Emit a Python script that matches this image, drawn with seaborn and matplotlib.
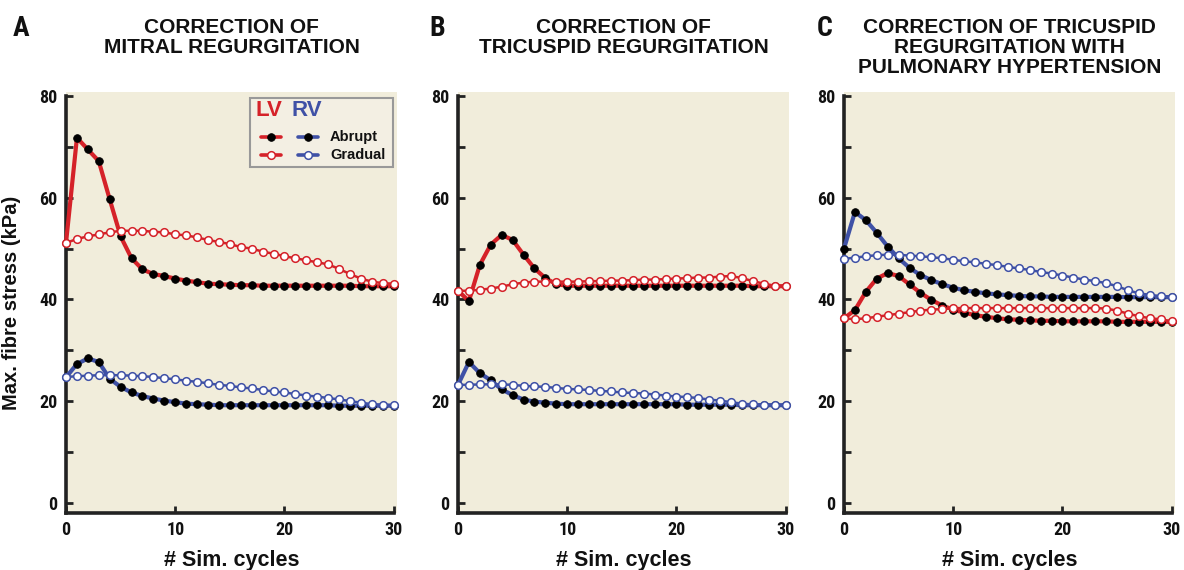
import numpy as np
import pandas as pd
import matplotlib
matplotlib.use("Agg")
import matplotlib.pyplot as plt
import seaborn as sns
from matplotlib.lines import Line2D
from matplotlib.patches import Rectangle
from matplotlib.ticker import MultipleLocator

# ---- data ----
cycles = list(range(31))

a_lv_abrupt = [51.1, 71.8, 69.5, 67.2, 59.7, 52.4, 48.1, 45.9, 45.0, 44.6, 44.1, 43.7, 43.4, 43.1, 43.0, 42.9,
               42.8, 42.8, 42.7, 42.7, 42.7, 42.7, 42.7, 42.7, 42.7, 42.7, 42.7, 42.6, 42.6, 42.6, 42.6]
a_lv_gradual = [51.1, 51.9, 52.4, 52.8, 53.2, 53.5, 53.5, 53.5, 53.3, 53.2, 52.8, 52.6, 52.2, 51.7, 51.3, 50.9,
                50.3, 50.0, 49.4, 49.0, 48.5, 48.1, 47.7, 47.3, 46.9, 46.0, 45.0, 44.1, 43.5, 43.2, 43.1]
a_rv_abrupt = [24.7, 27.3, 28.4, 27.7, 24.4, 22.8, 21.7, 21.0, 20.5, 20.1, 19.8, 19.5, 19.4, 19.3, 19.2, 19.2,
               19.2, 19.2, 19.2, 19.2, 19.2, 19.2, 19.2, 19.2, 19.2, 19.1, 19.1, 19.1, 19.1, 19.1, 19.1]
a_rv_gradual = [24.75, 24.9, 25.0, 25.1, 25.1, 25.1, 25.0, 24.9, 24.75, 24.5, 24.3, 24.0, 23.8, 23.5, 23.2, 23.0,
                22.7, 22.5, 22.2, 21.9, 21.7, 21.4, 21.1, 20.9, 20.6, 20.35, 20.0, 19.7, 19.4, 19.3, 19.2]

b_lv_abrupt = [41.7, 39.7, 46.8, 50.8, 52.7, 51.7, 48.8, 46.1, 44.2, 43.0, 42.7, 42.7, 42.7, 42.7, 42.7, 42.7,
               42.7, 42.7, 42.7, 42.7, 42.7, 42.7, 42.7, 42.7, 42.7, 42.7, 42.7, 42.6, 42.6, 42.6, 42.6]
b_lv_gradual = [41.7, 41.7, 41.9, 42.15, 42.5, 43.0, 43.3, 43.5, 43.5, 43.5, 43.5, 43.5, 43.6, 43.6, 43.7, 43.7,
                43.8, 43.9, 43.9, 44.0, 44.1, 44.2, 44.3, 44.3, 44.5, 44.6, 44.2, 43.6, 43.1, 42.7, 42.6]
b_rv_abrupt = [23.2, 27.7, 25.5, 24.1, 22.3, 21.2, 20.3, 19.9, 19.7, 19.5, 19.4, 19.4, 19.4, 19.4, 19.4, 19.4,
               19.4, 19.4, 19.4, 19.4, 19.4, 19.3, 19.3, 19.3, 19.3, 19.3, 19.2, 19.2, 19.2, 19.2, 19.2]
b_rv_gradual = [23.2, 23.2, 23.3, 23.3, 23.3, 23.2, 23.0, 22.9, 22.8, 22.6, 22.4, 22.3, 22.2, 22.0, 21.9, 21.7,
                21.6, 21.5, 21.3, 21.1, 20.9, 20.8, 20.6, 20.3, 20.1, 19.8, 19.5, 19.35, 19.3, 19.2, 19.15]

c_lv_abrupt = [36.3, 37.9, 41.5, 44.1, 45.2, 44.6, 42.95, 41.3, 39.9, 38.8, 38.0, 37.4, 36.9, 36.6, 36.3, 36.1,
               36.0, 35.9, 35.8, 35.8, 35.7, 35.7, 35.7, 35.7, 35.7, 35.6, 35.6, 35.6, 35.6, 35.6, 35.6]
c_lv_gradual = [36.3, 36.1, 36.3, 36.6, 36.9, 37.2, 37.5, 37.8, 38.0, 38.1, 38.3, 38.3, 38.3, 38.3, 38.3, 38.3,
                38.3, 38.3, 38.3, 38.3, 38.3, 38.3, 38.3, 38.3, 38.2, 37.8, 37.2, 36.7, 36.3, 36.1, 35.7]
c_rv_abrupt = [50.0, 57.2, 55.6, 53.1, 50.4, 48.1, 46.2, 44.8, 43.8, 43.0, 42.3, 41.8, 41.5, 41.2, 41.0, 40.85,
               40.7, 40.6, 40.6, 40.5, 40.5, 40.5, 40.5, 40.5, 40.5, 40.5, 40.45, 40.45, 40.45, 40.45, 40.45]
c_rv_gradual = [48.0, 48.2, 48.5, 48.7, 48.8, 48.8, 48.6, 48.5, 48.3, 48.1, 47.8, 47.5, 47.3, 47.0, 46.75, 46.4,
                46.1, 45.8, 45.4, 45.1, 44.7, 44.3, 43.9, 43.6, 43.2, 42.6, 41.8, 41.2, 40.9, 40.65, 40.45]

panel_letters = ["A", "B", "C"]
panel_titles = ["CORRECTION OF\nMITRAL REGURGITATION",
                "CORRECTION OF\nTRICUSPID REGURGITATION",
                "CORRECTION OF TRICUSPID\nREGURGITATION WITH\nPULMONARY HYPERTENSION"]
panel_series = [
    {("LV", "Abrupt"): a_lv_abrupt, ("LV", "Gradual"): a_lv_gradual,
     ("RV", "Abrupt"): a_rv_abrupt, ("RV", "Gradual"): a_rv_gradual},
    {("LV", "Abrupt"): b_lv_abrupt, ("LV", "Gradual"): b_lv_gradual,
     ("RV", "Abrupt"): b_rv_abrupt, ("RV", "Gradual"): b_rv_gradual},
    {("LV", "Abrupt"): c_lv_abrupt, ("LV", "Gradual"): c_lv_gradual,
     ("RV", "Abrupt"): c_rv_abrupt, ("RV", "Gradual"): c_rv_gradual},
]

# ---- style ----
RED = "#D52229"
BLUE = "#3F51A6"
BG = "#F1EDDB"
SPINE = "#222222"
INK = "#111111"

sns.set_theme(style="ticks")
NARROW = ["Roboto Condensed", "DejaVu Sans"]
plt.rcParams["font.family"] = ["Liberation Sans", "DejaVu Sans"]

colors = {"LV": RED, "RV": BLUE}


def series_style(vent, mode):
    if mode == "Abrupt":
        return dict(color=colors[vent], linewidth=3.0, marker="o", markersize=5.5,
                    markerfacecolor="black", markeredgecolor="black", markeredgewidth=0.6)
    return dict(color=colors[vent], linewidth=1.8, marker="o", markersize=5.5,
                markerfacecolor="white", markeredgecolor=colors[vent], markeredgewidth=1.1)


fig = plt.figure(figsize=(11.84, 5.70), dpi=100)
lefts = [66, 458, 844]
letter_x = [13, 429, 817]
ax_w, top_px, bot_px = 331, 92, 513
W, H = 1184, 570

for i, series in enumerate(panel_series):
    ax = fig.add_axes([lefts[i] / W, 1 - bot_px / H, ax_w / W, (bot_px - top_px) / H])
    ax.set_facecolor(BG)

    rows = []
    for (vent, mode), vals in series.items():
        for c, v in zip(cycles, vals):
            rows.append({"cycle": c, "stress": v, "vent": vent, "mode": mode})
    df = pd.DataFrame(rows)

    for mode in ["Abrupt", "Gradual"]:
        for vent in ["RV", "LV"]:
            sub = df[(df["vent"] == vent) & (df["mode"] == mode)]
            sns.lineplot(data=sub, x="cycle", y="stress", ax=ax, clip_on=False,
                         zorder=3 if mode == "Abrupt" else 4, **series_style(vent, mode))

    ax.set_xlim(0, 30.3)
    ax.set_ylim(-2, 80.8)
    ax.set_xticks([0, 10, 20, 30])
    ax.set_yticks([0, 20, 40, 60, 80])
    ax.yaxis.set_minor_locator(MultipleLocator(10))
    ax.tick_params(axis="both", which="both", direction="in", length=5, width=2,
                   color=SPINE, pad=6)
    for lab in ax.get_xticklabels() + ax.get_yticklabels():
        lab.set_family(NARROW)
        lab.set_fontsize(13)
        lab.set_fontweight("bold")
        lab.set_color(INK)
    for s in ["top", "right"]:
        ax.spines[s].set_visible(False)
    for s in ["left", "bottom"]:
        ax.spines[s].set_linewidth(2.6)
        ax.spines[s].set_color(SPINE)
    ax.spines["left"].set_bounds(-2, 80)
    ax.spines["bottom"].set_bounds(0, 30)

    ax.set_xlabel("# Sim. cycles", fontsize=15.5, fontweight="bold", color=INK)
    ax.xaxis.set_label_coords(0.5, -0.087)
    if i == 0:
        ax.set_ylabel("Max. fibre stress (kPa)", fontsize=14.5, fontweight="bold", color=INK)
        ax.yaxis.set_label_coords(-0.135, 0.5)
    else:
        ax.set_ylabel("")

    cx = (lefts[i] + ax_w / 2) / W
    fig.text(cx, 1 - 18 / H, panel_titles[i], ha="center", va="top",
             fontsize=15, fontweight="bold", linespacing=1.06, color=INK)
    fig.text(letter_x[i] / W, 1 - 29 / H, panel_letters[i], ha="left", va="center",
             family=NARROW, fontsize=20, fontweight="bold", color=INK)

    if i == 0:
        # legend box drawn in axes coordinates
        ax.add_patch(Rectangle((0.556, 0.822), 0.432, 0.164, transform=ax.transAxes,
                               facecolor="#F3EFE3", edgecolor="#999999", linewidth=1.5,
                               zorder=6, clip_on=False))
        ax.text(0.613, 0.955, "LV", transform=ax.transAxes, color=RED, fontsize=16,
                fontweight="bold", ha="center", va="center", zorder=7)
        ax.text(0.728, 0.955, "RV", transform=ax.transAxes, color=BLUE, fontsize=16,
                fontweight="bold", ha="center", va="center", zorder=7)
        for mode, yy in [("Abrupt", 0.893), ("Gradual", 0.850)]:
            for vent, (x0, x1) in [("LV", (0.589, 0.650)), ("RV", (0.701, 0.761))]:
                st = series_style(vent, mode)
                st["linewidth"] = 2.6
                ax.add_line(Line2D([x0, x1], [yy, yy], transform=ax.transAxes, zorder=7,
                                   **{k: v for k, v in st.items() if k != "marker"}))
                ax.add_line(Line2D([(x0 + x1) / 2], [yy], transform=ax.transAxes, zorder=8,
                                   linestyle="none", **{k: v for k, v in st.items() if k != "linewidth"}))
            ax.text(0.798, yy, mode, transform=ax.transAxes, fontsize=10.5, fontweight="bold",
                    ha="left", va="center", color=INK, zorder=7)

fig.savefig("out.png", dpi=100)
